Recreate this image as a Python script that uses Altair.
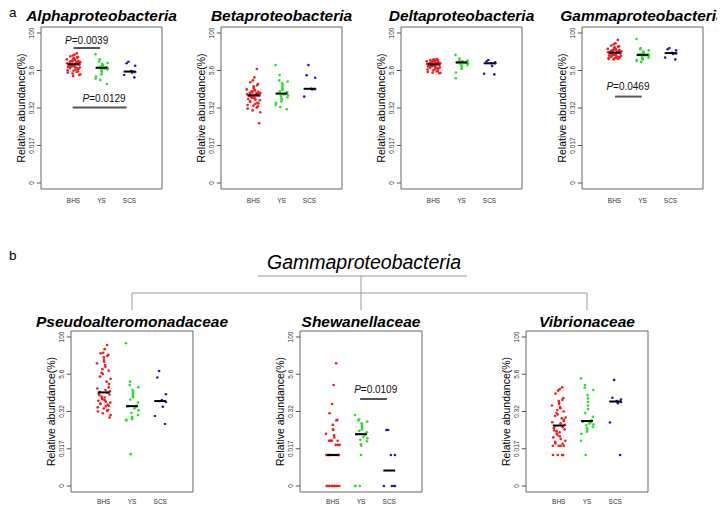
import altair as alt
import pandas as pd

# ---------------- data (values are log10(relative abundance % + 0.001)) -------------
GROUPS = ["BHS", "YS", "SCS"]
COLORS = ["#f01e1e", "#2edc2e", "#1f1fae"]
TICK_VALUES = [-3, -1.75, -0.5, 0.75, 2]
TICK_LABELS = ["0", "0.017", "0.32", "5.6", "100"]
Y_TITLE = "Relative abundance(%)"

alpha_bhs = [1.32, 1.28, 1.25, 1.22, 1.20, 1.18, 1.16, 1.15, 1.13, 1.12, 1.10, 1.09, 1.08, 1.07, 1.06,
             1.05, 1.04, 1.03, 1.02, 1.01, 1.00, 0.99, 0.98, 0.97, 0.97, 0.96, 0.95, 0.94, 0.93, 0.92,
             0.91, 0.90, 0.89, 0.88, 0.87, 0.86, 0.85, 0.84, 0.83, 0.82, 0.80, 0.78, 0.76, 0.74, 0.72,
             0.70, 0.68, 0.65, 0.62, 0.60, 0.57]
alpha_ys = [1.29, 1.12, 1.05, 1.00, 0.97, 0.95, 0.93, 0.90, 0.88, 0.87, 0.86, 0.85, 0.84, 0.83, 0.82,
            0.81, 0.80, 0.78, 0.75, 0.70, 0.62, 0.55, 0.48, 0.43, 0.30]
alpha_scs = [1.04, 0.99, 0.91, 0.73, 0.70, 0.68, 0.60, 0.52]

beta_bhs = [0.80, 0.52, 0.42, 0.36, 0.30, 0.26, 0.22, 0.18, 0.15, 0.12, 0.10, 0.08, 0.06, 0.04, 0.03,
            0.02, 0.01, 0.00, -0.01, -0.02, -0.03, -0.04, -0.05, -0.06, -0.07, -0.08, -0.08, -0.09,
            -0.10, -0.11, -0.12, -0.14, -0.16, -0.18, -0.20, -0.22, -0.24, -0.27, -0.30, -0.33, -0.35,
            -0.36, -0.40, -0.42, -0.44, -0.48, -0.52, -0.58, -0.64, -1.01]
beta_ys = [0.93, 0.60, 0.42, 0.38, 0.33, 0.28, 0.22, 0.15, 0.10, 0.06, 0.03, 0.01, -0.02, -0.03, -0.05,
           -0.07, -0.10, -0.14, -0.18, -0.22, -0.28, -0.33, -0.40, -0.47, -0.54]
beta_scs = [0.93, 0.59, 0.51, 0.14, 0.13, 0.12, -0.12]

delta_bhs = [1.13, 1.12, 1.11, 1.10, 1.10, 1.09, 1.08, 1.08, 1.07, 1.06, 1.05, 1.05, 1.04, 1.03, 1.02,
             1.02, 1.01, 1.00, 0.99, 0.99, 0.98, 0.97, 0.97, 0.96, 0.96, 0.95, 0.95, 0.94, 0.93, 0.92,
             0.92, 0.91, 0.90, 0.89, 0.88, 0.87, 0.86, 0.85, 0.84, 0.83, 0.82, 0.80, 0.78, 0.76, 0.74,
             0.72, 0.70, 0.68, 0.67, 0.66]
delta_ys = [1.27, 1.15, 1.10, 1.08, 1.06, 1.05, 1.04, 1.03, 1.03, 1.02, 1.02, 1.02, 1.01, 1.00, 0.99,
            0.98, 0.96, 0.93, 0.90, 0.86, 0.80, 0.68, 0.49]
delta_scs = [1.10, 1.06, 1.02, 0.99, 0.99, 0.90, 0.64, 0.62]

gamma_bhs = [1.77, 1.66, 1.62, 1.58, 1.56, 1.54, 1.52, 1.50, 1.49, 1.47, 1.46, 1.45, 1.44, 1.43, 1.42,
             1.41, 1.40, 1.39, 1.38, 1.37, 1.36, 1.36, 1.35, 1.35, 1.34, 1.34, 1.33, 1.32, 1.31, 1.30,
             1.29, 1.28, 1.27, 1.26, 1.25, 1.24, 1.23, 1.22, 1.21, 1.20, 1.19, 1.18, 1.17, 1.16, 1.15,
             1.14, 1.13, 1.12]
gamma_ys = [1.80, 1.50, 1.46, 1.42, 1.38, 1.36, 1.34, 1.32, 1.30, 1.29, 1.28, 1.27, 1.27, 1.26, 1.25,
            1.23, 1.20, 1.18, 1.16, 1.14, 1.12, 1.10, 1.07, 1.04]
gamma_scs = [1.50, 1.46, 1.42, 1.34, 1.32, 1.30, 1.18, 1.12]

pseudo_bhs = [1.73, 1.59, 1.47, 1.45, 1.40, 1.36, 1.32, 1.23, 1.17, 1.12, 1.06, 1.00, 0.92, 0.87, 0.80,
              0.76, 0.67, 0.60, 0.50, 0.42, 0.31, 0.27, 0.22, 0.18, 0.15, 0.13, 0.11, 0.07, 0.05, 0.00,
              -0.03, -0.06, -0.09, -0.12, -0.14, -0.17, -0.20, -0.23, -0.25, -0.27, -0.31, -0.33, -0.36,
              -0.40, -0.45, -0.48, -0.50, -0.56, -0.62, -0.70]
pseudo_ys = [1.79, 0.50, 0.39, 0.31, 0.22, 0.17, 0.11, 0.05, -0.02, -0.10, -0.20, -0.31, -0.33, -0.36,
             -0.40, -0.46, -0.55, -0.62, -0.68, -0.72, -0.76, -0.78, -0.80, -1.93]
pseudo_scs = [0.86, 0.64, 0.08, -0.12, -0.18, -0.34, -0.65, -0.92]

shew_bhs = [1.12, 0.39, -0.25, -0.56, -0.78, -0.80, -0.95, -1.10, -1.12, -1.25, -1.30, -1.37,
            -1.48, -1.48, -1.48, -1.48, -1.48, -1.62, -1.62, -1.62,
            -1.96, -1.96, -1.96, -1.96, -1.96, -1.96, -1.96, -1.96, -1.96, -1.96, -1.96, -1.96,
            -3.0, -3.0, -3.0, -3.0, -3.0, -3.0, -3.0, -3.0, -3.0, -3.0, -3.0, -3.0]
shew_ys = [-0.62, -0.76, -0.80, -0.84, -0.90, -0.95, -1.00, -1.05, -1.10, -1.15, -1.20, -1.25, -1.27,
           -1.30, -1.35, -1.40, -1.45, -1.50, -1.60, -1.65, -1.96, -3.0, -3.0, -3.0]
shew_scs = [-1.12, -1.12, -1.96, -1.96, -3.0, -3.0, -3.0, -3.0]

vib_bhs = [0.31, 0.25, 0.20, 0.10, -0.05, -0.11, -0.15, -0.20, -0.25, -0.30, -0.35, -0.39, -0.45, -0.50,
           -0.55, -0.60, -0.65, -0.70, -0.73, -0.78, -0.82, -0.86, -0.90, -0.95, -0.99, -1.03, -1.06,
           -1.10, -1.13, -1.16, -1.20, -1.24, -1.29, -1.33, -1.37, -1.42, -1.48, -1.52, -1.57, -1.58,
           -1.65, -1.65, -1.65, -1.65, -1.96, -1.96, -1.96, -1.96]
vib_ys = [0.61, 0.39, 0.30, 0.22, 0.05, -0.06, -0.18, -0.30, -0.42, -0.55, -0.68, -0.80, -0.84, -0.87,
          -0.90, -0.93, -0.96, -1.01, -1.06, -1.12, -1.18, -1.25, -1.48, -1.96]
vib_scs = [0.56, -0.04, -0.10, -0.15, -0.18, -0.22, -0.87, -1.96]

# P-value annotations: (line from, line to, line level, text centre, text level, value)
alpha_p = [(1.0, 1.95, 1.5, 1.47, 1.63, "=0.0039"), (0.97, 2.9, -0.48, 2.09, -0.31, "=0.0129")]
gamma_p = [(1.02, 1.97, -0.12, 1.48, 0.10, "=0.0469")]
shew_p = [(1.97, 2.92, -0.08, 2.52, 0.13, "=0.0109")]

# ---------------- layout ----------------
W, H = 709, 499
FONT = "Liberation Sans"
XDOM = [-0.16, 4.16]
YDOM = [-3.2, 2.2]
TICK_U = 0.15  # tick length in x units (~4px)


def panel(title, vals, box, title_dy, xlab_dy, annots):
    x0, x1, y0, y1 = box
    rows = []
    for gi, (g, vs) in enumerate(zip(GROUPS, vals), start=1):
        for v in vs:
            rows.append({"group": g, "gx": gi, "v": v})
    df = pd.DataFrame(rows)
    xs = alt.Scale(domain=XDOM, range=[x0, x1], nice=False, zero=False)
    ys = alt.Scale(domain=YDOM, range=[y1, y0], nice=False, zero=False)

    def X(*a, **k):
        return alt.X(*a, scale=xs, axis=None, **k)

    def Y(*a, **k):
        return alt.Y(*a, scale=ys, axis=None, **k)

    boxl = alt.Chart(pd.DataFrame({"k": [0]})).mark_rect(filled=False, color="#666", strokeWidth=1).encode(
        x=X(datum=XDOM[0]), x2=alt.X2(datum=XDOM[1]), y=Y(datum=YDOM[0]), y2=alt.Y2(datum=YDOM[1]))

    tdf = pd.DataFrame({"tv": TICK_VALUES, "tl": TICK_LABELS})
    ticks = alt.Chart(tdf).mark_rule(color="#555", strokeWidth=1).encode(
        x=X(datum=XDOM[0]), x2=alt.X2(datum=XDOM[0] - TICK_U), y=Y("tv:Q"))
    tlabels = alt.Chart(tdf).mark_text(font=FONT, fontSize=6.5, angle=270, align="center",
                                       baseline="bottom", dy=-6.5, color="#333").encode(
        x=X(datum=XDOM[0]), y=Y("tv:Q"), text="tl:N")
    ytitle = alt.Chart(pd.DataFrame({"t": [Y_TITLE]})).mark_text(
        font=FONT, fontSize=10.5, angle=270, align="center", baseline="middle", dy=-19, color="#000").encode(
        x=X(datum=XDOM[0]), y=Y(datum=(YDOM[0] + YDOM[1]) / 2), text="t:N")
    xdf = pd.DataFrame({"gx": [1, 2, 3], "g": GROUPS})
    xlabels = alt.Chart(xdf).mark_text(font=FONT, fontSize=6.5, align="center", baseline="middle",
                                       dy=xlab_dy, color="#333").encode(
        x=X("gx:Q"), y=Y(datum=YDOM[0]), text="g:N")

    pts = alt.Chart(df).transform_window(
        i="row_number()", groupby=["group"]
    ).transform_calculate(
        h="sin(datum.i * 12.9898 + datum.gx * 78.233) * 43758.5453"
    ).transform_calculate(
        xj="datum.gx + (datum.h - floor(datum.h) - 0.5) * 0.5"
    ).mark_circle(size=7, opacity=1).encode(
        x=X("xj:Q"), y=Y("v:Q"),
        color=alt.Color("group:N", scale=alt.Scale(domain=GROUPS, range=COLORS), legend=None))

    med = alt.Chart(df).transform_aggregate(
        med="median(v)", groupby=["gx"]
    ).transform_calculate(
        xa="datum.gx - 0.21", xb="datum.gx + 0.21"
    ).mark_rule(color="#000", strokeWidth=2).encode(
        x=X("xa:Q"), x2="xb:Q", y=Y("med:Q"))

    ttl = alt.Chart(pd.DataFrame({"t": [title]})).mark_text(
        font=FONT, fontSize=15.5, fontWeight="bold", fontStyle="italic", align="center",
        baseline="alphabetic", dy=title_dy, color="#000").encode(
        x=X(datum=2.0), y=Y(datum=YDOM[1]), text="t:N")

    layers = [boxl, ticks, tlabels, ytitle, xlabels, pts, med, ttl]
    if annots:
        adf = pd.DataFrame(annots, columns=["a1", "a2", "al", "tc", "tl", "txt"])
        lines = alt.Chart(adf).mark_rule(color="#555", strokeWidth=2).encode(
            x=X("a1:Q"), x2="a2:Q", y=Y("al:Q"))
        fs = 10
        wp = 0.667 * fs
        wr = 3.642 * fs
        start = -(wp + wr) / 2
        ptxt = alt.Chart(adf).mark_text(font=FONT, fontSize=fs, fontStyle="italic", align="left",
                                        baseline="alphabetic", dx=start, color="#111", text="P").encode(
            x=X("tc:Q"), y=Y("tl:Q"))
        rtxt = alt.Chart(adf).mark_text(font=FONT, fontSize=fs, align="left", baseline="alphabetic",
                                        dx=start + wp, color="#111").encode(
            x=X("tc:Q"), y=Y("tl:Q"), text="txt:N")
        layers += [lines, ptxt, rtxt]
    return alt.layer(*layers)


A_X = [33, 213, 393, 574]
A_W = 121
A_Y = (19, 181)
B_X = [63, 292, 518]
B_W = 122
B_Y = (323, 484)

panels = [
    panel("Alphaproteobacteria", [alpha_bhs, alpha_ys, alpha_scs], (A_X[0], A_X[0] + A_W, *A_Y), -6.5, 12, alpha_p),
    panel("Betaproteobacteria", [beta_bhs, beta_ys, beta_scs], (A_X[1], A_X[1] + A_W, *A_Y), -6.5, 12, None),
    panel("Deltaproteobacteria", [delta_bhs, delta_ys, delta_scs], (A_X[2], A_X[2] + A_W, *A_Y), -6.5, 12, None),
    panel("Gammaproteobacteria", [gamma_bhs, gamma_ys, gamma_scs], (A_X[3], A_X[3] + A_W, *A_Y), -6.5, 12, gamma_p),
    panel("Pseudoalteromonadaceae", [pseudo_bhs, pseudo_ys, pseudo_scs], (B_X[0], B_X[0] + B_W, *B_Y), -4, 10, None),
    panel("Shewanellaceae", [shew_bhs, shew_ys, shew_scs], (B_X[1], B_X[1] + B_W, *B_Y), -4, 10, shew_p),
    panel("Vibrionaceae", [vib_bhs, vib_ys, vib_scs], (B_X[2], B_X[2] + B_W, *B_Y), -4, 10, None),
]

# tree connecting "Gammaproteobacteria" to the three families (pixel layout)
centers = [x + B_W / 2 for x in B_X]
TREE_TOP, TREE_MID, TREE_BOT = 268, 285, 302
segs = pd.DataFrame([
    {"x": 250, "x2": 459, "y": TREE_TOP, "y2": TREE_TOP},
    {"x": centers[1], "x2": centers[1], "y": TREE_TOP, "y2": TREE_MID},
    {"x": centers[0], "x2": centers[2], "y": TREE_MID, "y2": TREE_MID},
    {"x": centers[0], "x2": centers[0], "y": TREE_MID, "y2": TREE_BOT},
    {"x": centers[1], "x2": centers[1], "y": TREE_MID, "y2": TREE_BOT},
    {"x": centers[2], "x2": centers[2], "y": TREE_MID, "y2": TREE_BOT},
])
tree = alt.Chart(segs).mark_rule(color="#999", strokeWidth=1).encode(
    x=alt.X("x:Q", scale=None, axis=None), x2="x2:Q",
    y=alt.Y("y:Q", scale=None, axis=None), y2="y2:Q")

tree_title = alt.Chart(pd.DataFrame({"t": ["Gammaproteobacteria"], "x": [356], "y": [261]})).mark_text(
    font=FONT, fontSize=19.5, fontStyle="italic", align="center", baseline="alphabetic", color="#000").encode(
    x=alt.X("x:Q", scale=None, axis=None), y=alt.Y("y:Q", scale=None, axis=None), text="t:N")

letters = alt.Chart(pd.DataFrame({"t": ["a", "b"], "x": [1, 1], "y": [9, 252]})).mark_text(
    font=FONT, fontSize=13.5, align="left", baseline="alphabetic", color="#000").encode(
    x=alt.X("x:Q", scale=None, axis=None), y=alt.Y("y:Q", scale=None, axis=None), text="t:N")

chart = alt.layer(*panels, tree, tree_title, letters).resolve_scale(
    x="independent", y="independent"
).properties(
    width=W, height=H, padding=0, autosize=alt.AutoSizeParams(type="none")
).configure_view(stroke=None)

chart.save("out.html", embed_options={"renderer": "svg", "actions": False})
